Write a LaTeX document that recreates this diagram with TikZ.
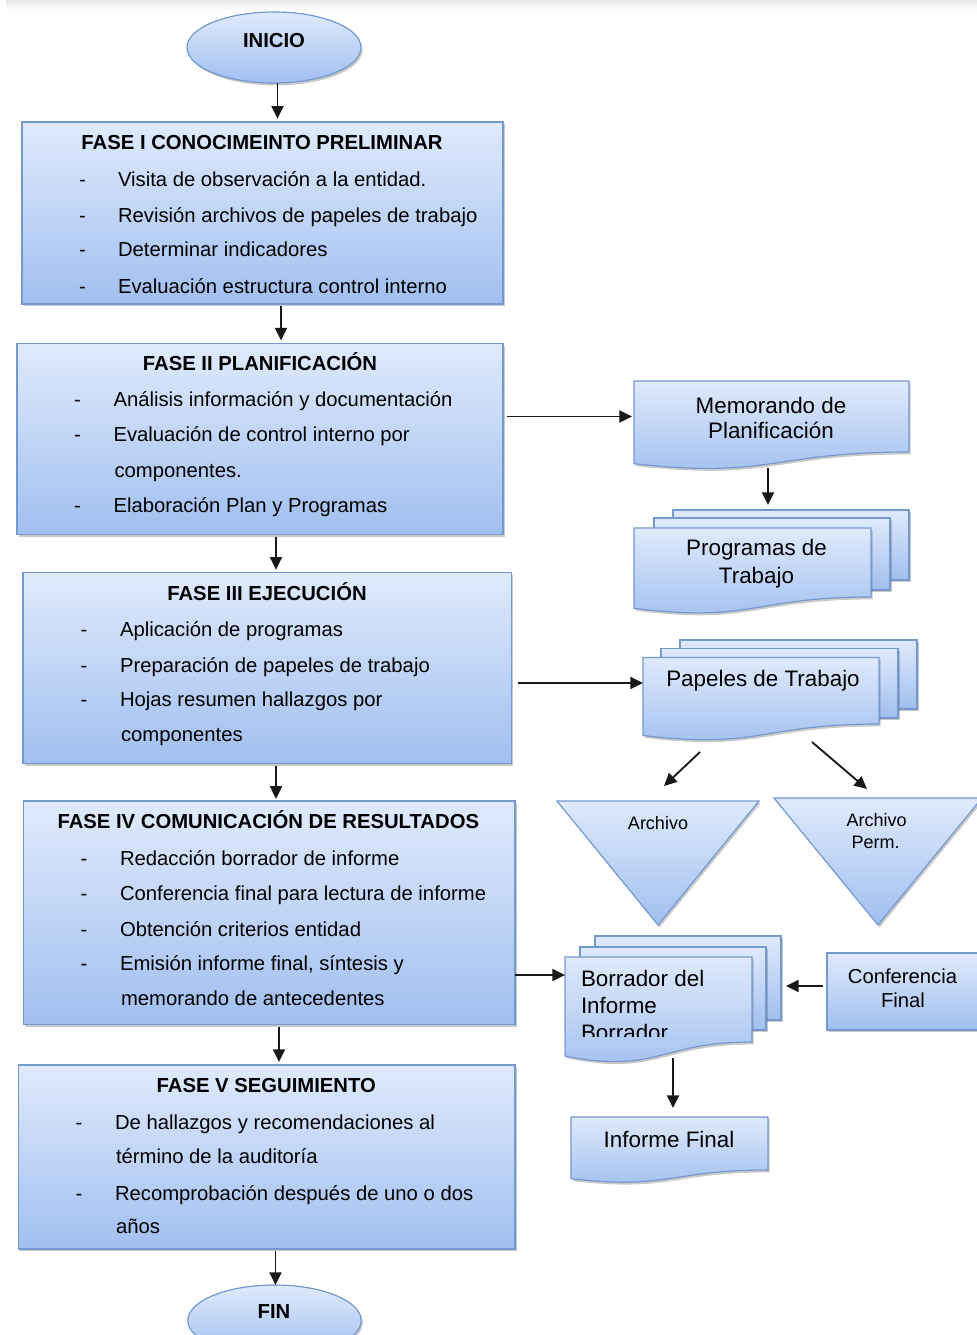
\documentclass[tikz,border=0pt]{standalone}
\usepackage{fontspec}
\setmainfont{Liberation Sans}
\usetikzlibrary{arrows.meta,fit,shadows,shapes.geometric}
\definecolor{bordc}{HTML}{7499CF}
\definecolor{topc}{HTML}{DFEAFC}
\definecolor{botc}{HTML}{A1BFF0}
\begin{document}
\begin{tikzpicture}[x=0.75pt,y=-0.75pt,
  every node/.style={inner sep=0pt, outer sep=0pt},
  boxst/.style={draw=bordc, line width=0.9pt, top color=topc, bottom color=botc,
    drop shadow={shadow xshift=1.2pt, shadow yshift=-1.8pt, opacity=0.3, fill=black!70}},
  ghost/.style={rectangle, inner sep=0pt},
  arr/.style={-{Triangle[length=9.5pt,width=9pt]}, line width=1.4pt, draw=black!90},
  body/.style={font=\fontsize{15.2}{18}\selectfont, anchor=base west},
  ttl/.style={font=\bfseries\fontsize{15.2}{18}\selectfont, anchor=base},
  big/.style={font=\fontsize{16.8}{20}\selectfont, anchor=base},
  bigl/.style={font=\fontsize{16.8}{20}\selectfont, anchor=base west},
  small/.style={font=\fontsize{13.5}{16}\selectfont, anchor=base},
  mid/.style={font=\fontsize{15.2}{18}\selectfont, anchor=base}
]
\useasboundingbox (0,0) rectangle (977,1335);
\clip (0,0) rectangle (977,1335);
\fill[top color=black!9, bottom color=white, draw=none] (6,0) rectangle (977,11);

% ---------- left column ----------
\node[boxst, ellipse, minimum width=130.5pt, minimum height=53.25pt] (inicio) at (274,47.5) {};
\node[boxst, rectangle, fit={(22,122)(503,304)}] (f1) {};
\node[boxst, rectangle, fit={(17,343.5)(503,534.5)}] (f2) {};
\node[boxst, rectangle, fit={(23,572.5)(511.5,763.5)}] (f3) {};
\node[boxst, rectangle, fit={(23.5,801)(515,1024.5)}] (f4) {};
\node[boxst, rectangle, fit={(18.5,1065)(515,1249)}] (f5) {};
\node[boxst, ellipse, minimum width=130pt, minimum height=53.25pt] (fin) at (274.5,1320.5) {};

% ---------- right column ----------
% Memorando
\path[boxst] (634,381) -- (909,381) -- (909,452) .. controls (771.5,452) and (771.5,479) .. (634,463.7) -- cycle;
\node[ghost, fit={(634,381)(909,452)}] (memo) {};
% Programas (multi-document)
\path[boxst] (673,510) rectangle (909,580);
\path[boxst] (654,518) rectangle (890,590);
\path[boxst] (634,528) -- (871,528) -- (871,597) .. controls (752.5,597) and (752.5,623.2) .. (634,608.3) -- cycle;
\node[ghost, fit={(673,510)(909,580)}] (progb) {};
\node[ghost, fit={(634,528)(871,597)}] (progf) {};
% Papeles de trabajo
\path[boxst] (680,640) rectangle (917,709);
\path[boxst] (661,648.5) rectangle (898,718);
\path[boxst] (643,657.5) -- (879,657.5) -- (879,724) .. controls (761,724) and (761,749.5) .. (643,735.5) -- cycle;
\node[ghost, fit={(643,657.5)(879,724)}] (papf) {};
% Triangles
\path[boxst] (557,801) -- (759,801) -- (658,925) -- cycle;
\node[ghost, fit={(557,801)(759,925)}] (arch) {};
\path[boxst] (774,798) -- (982,798) -- (878,925) -- cycle;
\node[ghost, fit={(774,798)(977,925)}] (archp) {};
% Borrador
\path[boxst] (595,936) rectangle (781,1020);
\path[boxst] (580,947) rectangle (766,1030);
\path[boxst] (565,957) -- (752,957) -- (752,1042) .. controls (658.5,1042) and (658.5,1074.3) .. (565,1056) -- cycle;
\node[ghost, fit={(595,936)(781,1020)}] (borrb) {};
\node[ghost, fit={(565,957)(752,1042)}] (borrf) {};
% Conferencia final
\node[boxst, rectangle, fit={(827,953)(995,1030)}] (conf) {};
% Informe final
\path[boxst] (571,1117) -- (768,1117) -- (768,1170) .. controls (669.5,1170) and (669.5,1190) .. (571,1178.7) -- cycle;
\node[ghost, fit={(571,1117)(768,1170)}] (inff) {};

% ---------- texts ----------
\node[ttl] (tinicio) at (274,47) {INICIO};
\node[ttl] (tfin) at (274,1318) {FIN};

\node[ttl] (t1) at (262,149) {FASE I CONOCIMEINTO PRELIMINAR};
\node[body] (d1a) at (79,186) {-}; \node[body] (i1a) at (118,186) {Visita de observación a la entidad.};
\node[body] (d1b) at (79,222) {-}; \node[body] (i1b) at (118,222) {Revisión archivos de papeles de trabajo};
\node[body] (d1c) at (79,256) {-}; \node[body] (i1c) at (118,256) {Determinar indicadores};
\node[body] (d1d) at (79,293) {-}; \node[body] (i1d) at (118,293) {Evaluación estructura control interno};

\node[ttl] (t2) at (260,370) {FASE II PLANIFICACIÓN};
\node[body] (d2a) at (74,406.5) {-}; \node[body] (i2a) at (113.5,406.5) {Análisis información y documentación};
\node[body] (d2b) at (74,441.5) {-}; \node[body] (i2b) at (113.5,441.5) {Evaluación de control interno por};
\node[body] (i2c) at (114.5,477.5) {componentes.};
\node[body] (d2d) at (74,512.5) {-}; \node[body] (i2d) at (113.5,512.5) {Elaboración Plan y Programas};

\node[ttl] (t3) at (267,600) {FASE III EJECUCIÓN};
\node[body] (d3a) at (80.5,636.5) {-}; \node[body] (i3a) at (120,636.5) {Aplicación de programas};
\node[body] (d3b) at (80.5,672.5) {-}; \node[body] (i3b) at (120,672.5) {Preparación de papeles de trabajo};
\node[body] (d3c) at (80.5,706.5) {-}; \node[body] (i3c) at (120,706.5) {Hojas resumen hallazgos por};
\node[body] (i3d) at (121,741) {componentes};

\node[ttl] (t4) at (268.3,828.5) {FASE IV COMUNICACIÓN DE RESULTADOS};
\node[body] (d4a) at (80.5,865) {-}; \node[body] (i4a) at (120,865) {Redacción borrador de informe};
\node[body] (d4b) at (80.5,900) {-}; \node[body] (i4b) at (120,900) {Conferencia final para lectura de informe};
\node[body] (d4c) at (80.5,936.5) {-}; \node[body] (i4c) at (120,936.5) {Obtención criterios entidad};
\node[body] (d4d) at (80.5,970) {-}; \node[body] (i4d) at (120,970) {Emisión informe final, síntesis y};
\node[body] (i4e) at (121,1005.5) {memorando de antecedentes};

\node[ttl] (t5) at (266.3,1092.5) {FASE V SEGUIMIENTO};
\node[body] (d5a) at (75.5,1129) {-}; \node[body] (i5a) at (115,1129) {De hallazgos y recomendaciones al};
\node[body] (i5b) at (116,1163.5) {término de la auditoría};
\node[body] (d5c) at (75.5,1200) {-}; \node[body] (i5c) at (115,1200) {Recomprobación después de uno o dos};
\node[body] (i5d) at (116,1233.5) {años};

\node[big] (tm1) at (771,413) {Memorando de};
\node[big] (tm2) at (771,438.5) {Planificación};
\node[big] (tp1) at (756.5,555) {Programas de};
\node[big] (tp2) at (756.5,583.5) {Trabajo};
\node[big] (tpa) at (763,686.5) {Papeles de Trabajo};
\node[small] (ta1) at (658,829) {Archivo};
\node[small] (ta2) at (876.5,826.5) {Archivo};
\node[small] (ta3) at (875.5,848.5) {Perm.};
\node[bigl] (tb1) at (581,986) {Borrador del};
\node[bigl] (tb2) at (581,1013.3) {Informe};
\begin{scope}
  \clip (560,1000) rectangle (760,1036.5);
  \node[bigl] (tb3) at (581,1040.5) {Borrador};
\end{scope}
\node[mid] (tc1) at (902.5,983.3) {Conferencia};
\node[mid] (tc2) at (903,1007.3) {Final};
\node[big] (tif) at (669,1147.3) {Informe Final};

% ---------- connectors ----------
\coordinate (ax1) at (277.5,0);
\coordinate (ax2) at (281,0);
\coordinate (ax3) at (276,0);
\coordinate (ax4) at (276,0);
\coordinate (ax5) at (279,0);
\coordinate (ax6) at (275.5,0);
\draw[arr, shorten >=2.4pt] (inicio.south -| ax1) -- (f1.north -| ax1);
\draw[arr, shorten <=1.5pt, shorten >=2.2pt] (f1.south -| ax2) -- (f2.north -| ax2);
\draw[arr, shorten <=1.5pt, shorten >=2pt] (f2.south -| ax3) -- (f3.north -| ax3);
\draw[arr, shorten <=1.5pt, shorten >=1.6pt] (f3.south -| ax4) -- (f4.north -| ax4);
\draw[arr, shorten <=1.5pt, shorten >=2.2pt] (f4.south -| ax5) -- (f5.north -| ax5);
\draw[arr, shorten <=1.5pt] (f5.south -| ax6) -- (fin.north -| ax6);

\coordinate (ay3) at (0,683);
\coordinate (ay4) at (0,975);
\coordinate (ay5) at (0,986);
\coordinate (ax7) at (768,0);
\coordinate (ax8) at (673,0);
\draw[arr, shorten <=3pt, shorten >=1.5pt] (f2.east |- memo.west) -- (memo.west);
\draw[arr, shorten <=12pt, shorten >=3.8pt] (memo.south -| ax7) -- (progb.north -| ax7);
\draw[arr, shorten <=4.5pt] (f3.east |- ay3) -- (papf.west |- ay3);
\draw[arr] (f4.east |- ay4) -- (borrf.west |- ay4);
\draw[arr, shorten <=3pt, shorten >=3.8pt] (conf.west |- ay5) -- (borrb.east |- ay5);
\draw[arr, shorten <=12pt, shorten >=6.8pt] (borrf.south -| ax8) -- (inff.north -| ax8);

\coordinate (d1s) at (700,752);
\coordinate (d1e) at (664,786);
\coordinate (d2s) at (812,742);
\coordinate (d2e) at (867,789);
\draw[arr] (d1s) -- (d1e);
\draw[arr] (d2s) -- (d2e);
\end{tikzpicture}
\end{document}
